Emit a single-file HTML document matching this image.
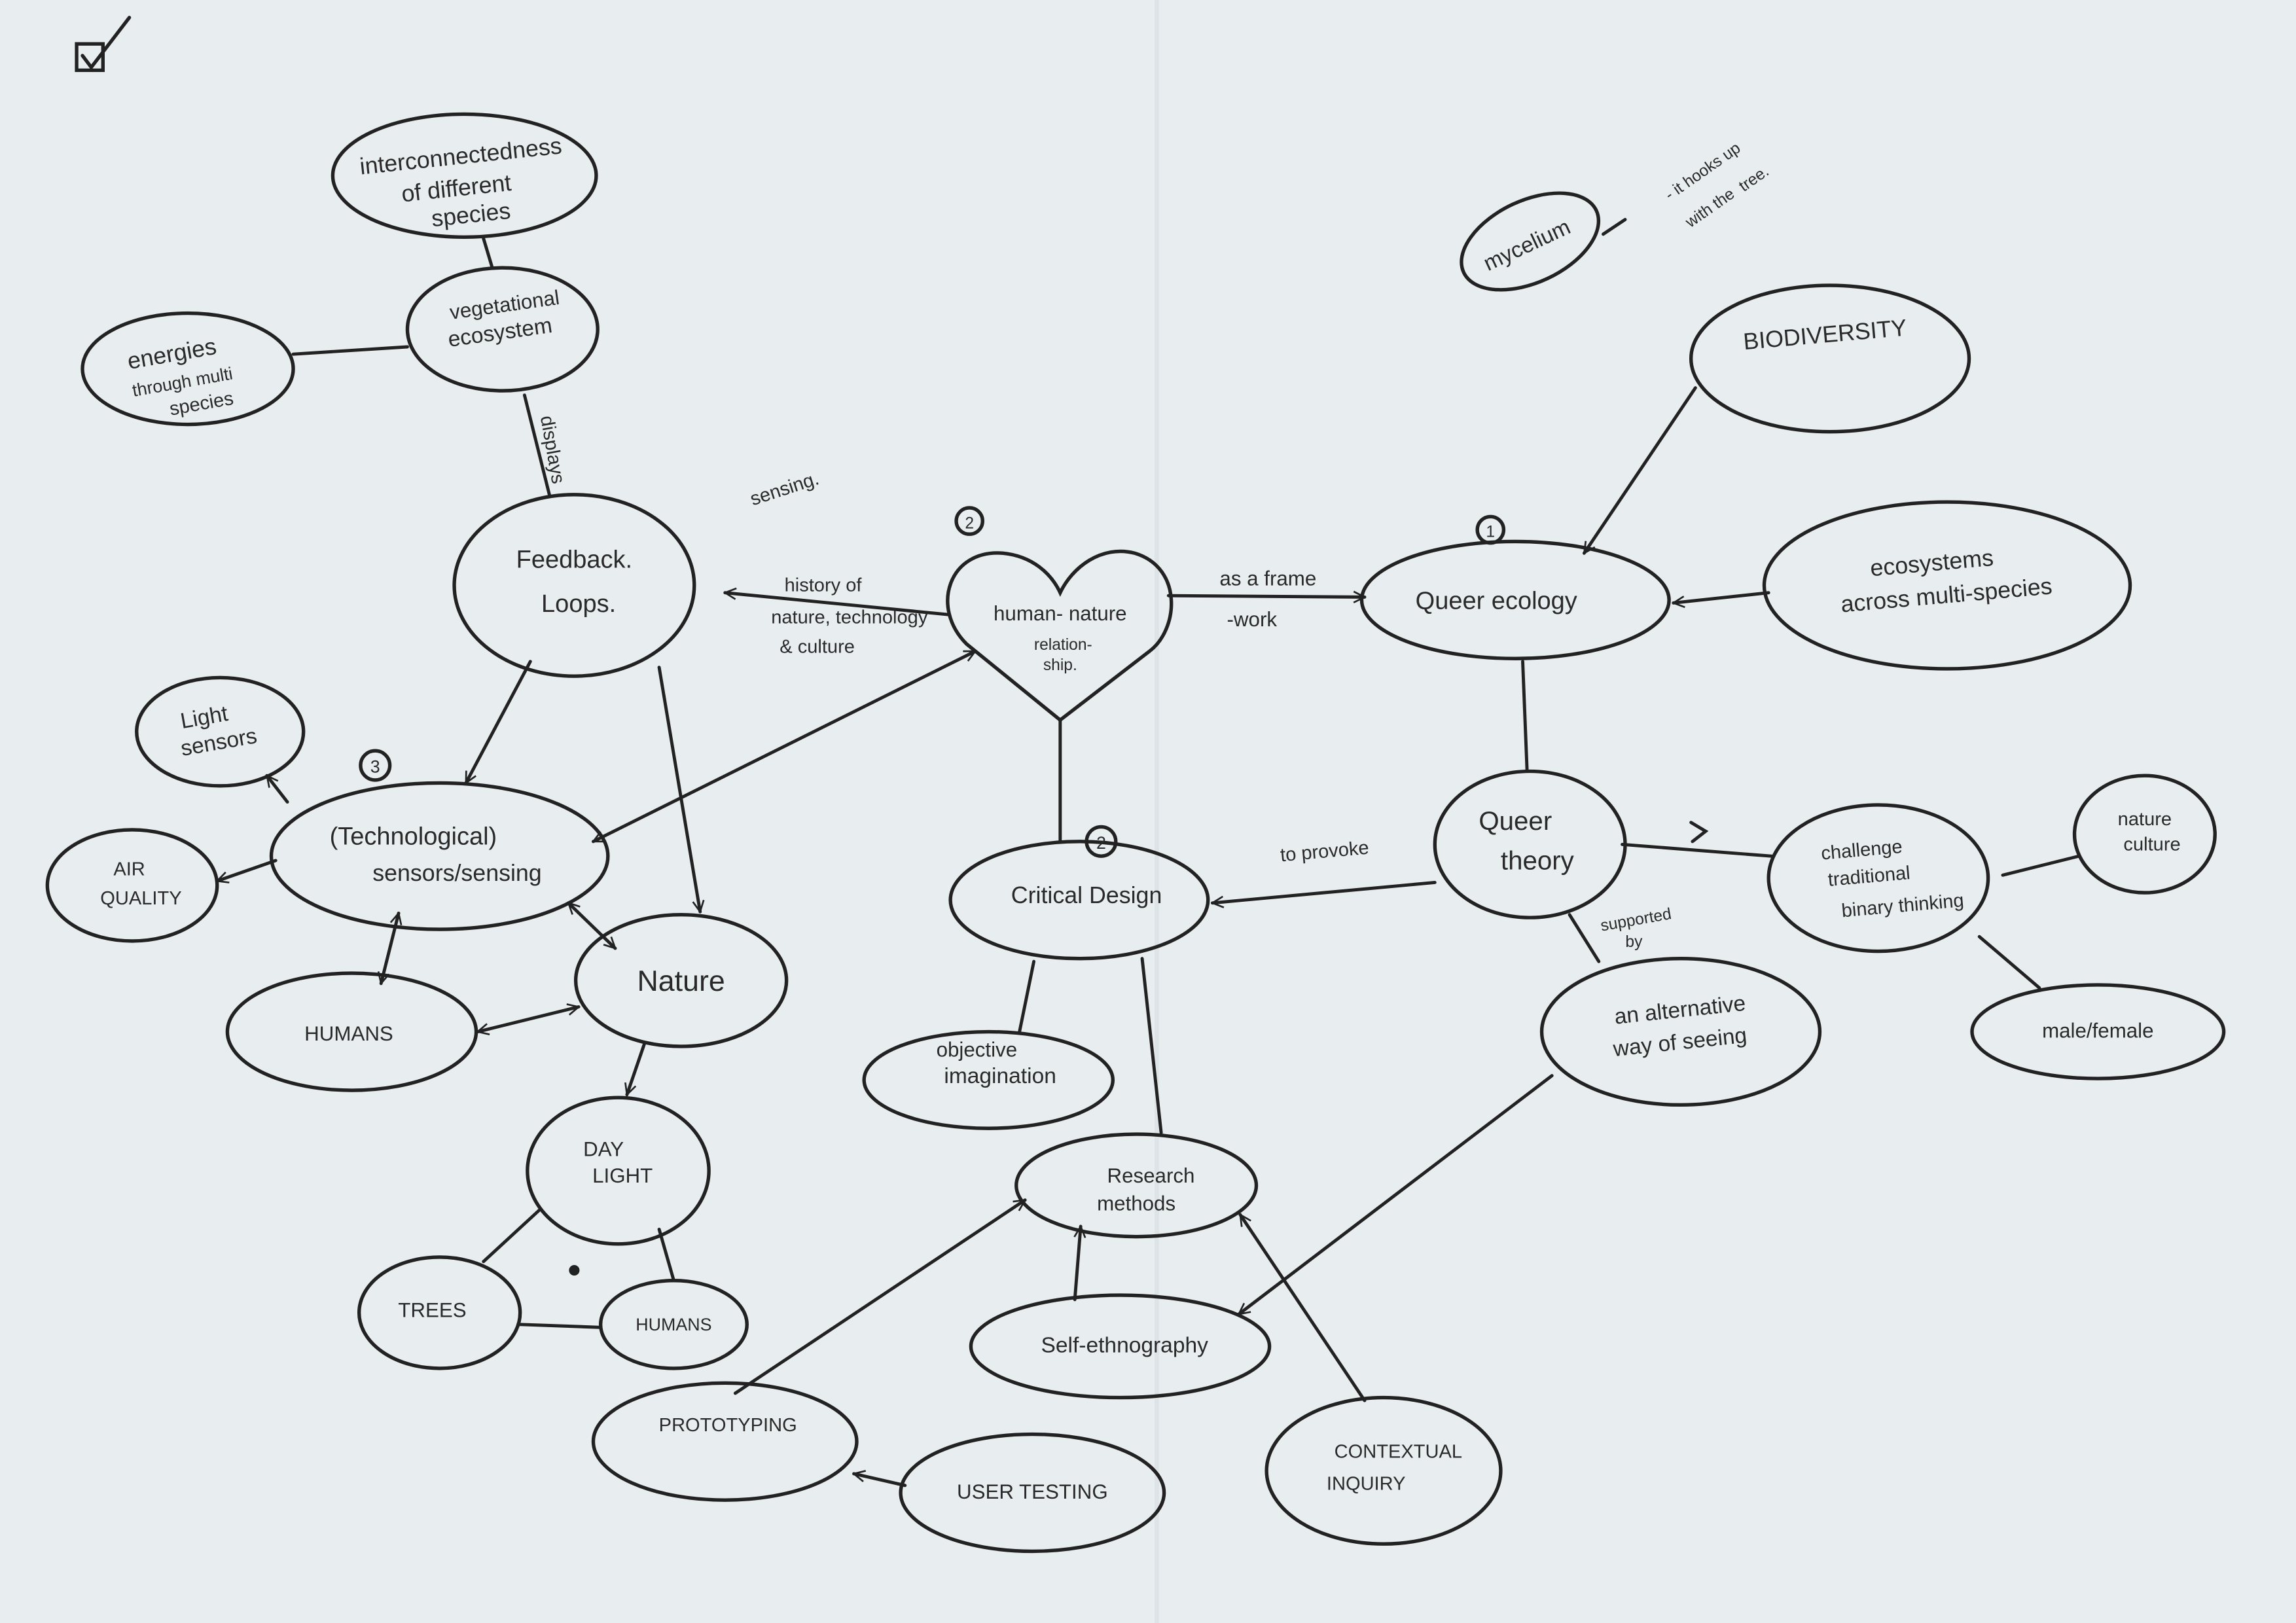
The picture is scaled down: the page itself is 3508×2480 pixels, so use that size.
<!DOCTYPE html>
<html><head><meta charset="utf-8"><style>
html,body{margin:0;padding:0;background:#e8edef;}
svg{display:block}
text{font-family:"Liberation Sans",sans-serif;fill:#2a2a2a;text-anchor:middle;}
</style></head><body>
<svg width="3508" height="2480" viewBox="0 0 1568 1109" xmlns="http://www.w3.org/2000/svg">
<defs><marker id="a" viewBox="0 0 12 12" refX="11" refY="6" markerWidth="9" markerHeight="9" orient="auto-start-reverse" markerUnits="userSpaceOnUse"><path d="M1,1 L11,6 L1,11" fill="none" stroke="#222" stroke-width="1.6"/></marker></defs>
<rect width="1568" height="1109" fill="#e8edef"/>
<line x1="790" y1="0" x2="790" y2="1109" stroke="#dde3e6" stroke-width="3"/>
<g fill="none" stroke="#222" stroke-width="2.4" stroke-linecap="round">
<rect x="52" y="30" width="18" height="18"/><path d="M56,38 L62,46 L88,12"/>
<ellipse cx="317" cy="120" rx="90" ry="42"/>
<ellipse cx="343" cy="225" rx="65" ry="42"/>
<ellipse cx="128" cy="252" rx="72" ry="38"/>
<ellipse cx="392" cy="400" rx="82" ry="62"/>
<path d="M724,492 L660,440 C635,415 648,375 685,378 C705,380 718,392 724,405 C732,388 752,372 775,378 C808,388 805,430 785,445 Z"/>
<ellipse cx="1035" cy="410" rx="105" ry="40"/>
<ellipse cx="1250" cy="245" rx="95" ry="50"/>
<ellipse cx="1330" cy="400" rx="125" ry="57"/>
<ellipse cx="1045" cy="165" rx="50" ry="28" transform="rotate(-25 1045 165)"/>
<ellipse cx="150" cy="500" rx="57" ry="37"/>
<ellipse cx="300" cy="585" rx="115" ry="50"/>
<ellipse cx="90" cy="605" rx="58" ry="38"/>
<ellipse cx="240" cy="705" rx="85" ry="40"/>
<ellipse cx="465" cy="670" rx="72" ry="45"/>
<ellipse cx="422" cy="800" rx="62" ry="50"/>
<ellipse cx="300" cy="897" rx="55" ry="38"/>
<ellipse cx="460" cy="905" rx="50" ry="30"/>
<ellipse cx="737" cy="615" rx="88" ry="40"/>
<ellipse cx="675" cy="738" rx="85" ry="33"/>
<ellipse cx="1045" cy="577" rx="65" ry="50"/>
<ellipse cx="1283" cy="600" rx="75" ry="50"/>
<ellipse cx="1465" cy="570" rx="48" ry="40"/>
<ellipse cx="1433" cy="705" rx="86" ry="32"/>
<ellipse cx="1148" cy="705" rx="95" ry="50"/>
<ellipse cx="776" cy="810" rx="82" ry="35"/>
<ellipse cx="765" cy="920" rx="102" ry="35"/>
<ellipse cx="495" cy="985" rx="90" ry="40"/>
<ellipse cx="705" cy="1020" rx="90" ry="40"/>
<ellipse cx="945" cy="1005" rx="80" ry="50"/>
<circle cx="662" cy="356" r="9"/><circle cx="1018" cy="362" r="9"/><circle cx="256" cy="523" r="10"/><circle cx="752" cy="575" r="10"/>
</g>
<g fill="none" stroke="#222" stroke-width="2.2" stroke-linecap="round">
<line x1="330" y1="163" x2="336" y2="183"/>
<line x1="200" y1="242" x2="278" y2="237"/>
<line x1="358" y1="270" x2="375" y2="338"/>
<line x1="648" y1="420" x2="495" y2="405" marker-end="url(#a)"/>
<line x1="798" y1="407" x2="932" y2="408" marker-end="url(#a)"/>
<line x1="1158" y1="265" x2="1082" y2="378" marker-end="url(#a)"/>
<line x1="1208" y1="405" x2="1143" y2="412" marker-end="url(#a)"/>
<line x1="1040" y1="452" x2="1043" y2="527"/>
<line x1="724" y1="492" x2="724" y2="575"/>
<line x1="362" y1="452" x2="318" y2="535" marker-end="url(#a)"/>
<line x1="450" y1="456" x2="478" y2="623" marker-end="url(#a)"/>
<line x1="405" y1="575" x2="666" y2="445" marker-start="url(#a)" marker-end="url(#a)"/>
<line x1="196" y1="548" x2="182" y2="530" marker-end="url(#a)"/>
<line x1="188" y1="588" x2="148" y2="602" marker-end="url(#a)"/>
<line x1="272" y1="624" x2="260" y2="672" marker-start="url(#a)" marker-end="url(#a)"/>
<line x1="388" y1="617" x2="420" y2="648" marker-start="url(#a)" marker-end="url(#a)"/>
<line x1="326" y1="705" x2="395" y2="688" marker-start="url(#a)" marker-end="url(#a)"/>
<line x1="440" y1="713" x2="428" y2="748" marker-end="url(#a)"/>
<line x1="368" y1="827" x2="330" y2="862"/>
<line x1="450" y1="840" x2="460" y2="875"/>
<line x1="355" y1="905" x2="410" y2="907"/>
<line x1="980" y1="603" x2="828" y2="617" marker-end="url(#a)"/>
<line x1="1108" y1="577" x2="1210" y2="585"/>
<path d="M1155,562 L1165,568 L1156,575"/>
<line x1="1368" y1="598" x2="1420" y2="585"/>
<line x1="1352" y1="640" x2="1393" y2="675"/>
<line x1="1072" y1="625" x2="1092" y2="657"/>
<line x1="706" y1="657" x2="696" y2="706"/>
<line x1="780" y1="655" x2="793" y2="774"/>
<line x1="1060" y1="735" x2="846" y2="898" marker-end="url(#a)"/>
<line x1="734" y1="888" x2="738" y2="838" marker-end="url(#a)"/>
<line x1="502" y1="952" x2="700" y2="820" marker-end="url(#a)"/>
<line x1="932" y1="957" x2="847" y2="830" marker-end="url(#a)"/>
<line x1="618" y1="1015" x2="583" y2="1007" marker-end="url(#a)"/>
<line x1="1095" y1="160" x2="1110" y2="150"/>
<circle cx="392" cy="868" r="2.5" fill="#222"/>
</g>
<g font-size="16">
<text x="315" y="112" transform="rotate(-6 315 112)">interconnectedness</text>
<text x="312" y="134" transform="rotate(-6 312 134)">of different</text>
<text x="322" y="152" transform="rotate(-6 322 152)">species</text>
<text x="345" y="213" font-size="14" transform="rotate(-8 345 213)">vegetational</text>
<text x="342" y="232" font-size="15" transform="rotate(-8 342 232)">ecosystem</text>
<text x="118" y="247" transform="rotate(-10 118 247)">energies</text>
<text x="125" y="265" font-size="12" transform="rotate(-10 125 265)">through multi</text>
<text x="138" y="280" font-size="13" transform="rotate(-10 138 280)">species</text>
<text x="373" y="308" font-size="13" transform="rotate(80 373 308)">displays</text>
<text x="537" y="338" font-size="13" transform="rotate(-18 537 338)">sensing.</text>
<text x="392" y="388" font-size="17">Feedback.</text>
<text x="395" y="418" font-size="17">Loops.</text>
<text x="562" y="404" font-size="13">history of</text>
<text x="580" y="426" font-size="13">nature, technology</text>
<text x="558" y="446" font-size="13">&amp; culture</text>
<text x="662" y="361" font-size="11">2</text>
<text x="724" y="424" font-size="14">human- nature</text>
<text x="726" y="444" font-size="11">relation-</text>
<text x="724" y="458" font-size="11">ship.</text>
<text x="866" y="400" font-size="14">as a frame</text>
<text x="855" y="428" font-size="14">-work</text>
<text x="1018" y="367" font-size="11">1</text>
<text x="1022" y="416" font-size="17">Queer ecology</text>
<text x="1247" y="234" font-size="16" transform="rotate(-5 1247 234)">BIODIVERSITY</text>
<text x="1320" y="390" font-size="16" transform="rotate(-5 1320 390)">ecosystems</text>
<text x="1330" y="412" font-size="16" transform="rotate(-5 1330 412)">across multi-species</text>
<text x="1045" y="172" font-size="15" transform="rotate(-25 1045 172)">mycelium</text>
<text x="1165" y="120" font-size="11" transform="rotate(-35 1165 120)">- it hooks up</text>
<text x="1170" y="145" font-size="11" transform="rotate(-35 1170 145)">with the</text>
<text x="1200" y="125" font-size="11" transform="rotate(-35 1200 125)">tree.</text>
<text x="140" y="495" font-size="15" transform="rotate(-10 140 495)">Light</text>
<text x="150" y="512" font-size="15" transform="rotate(-10 150 512)">sensors</text>
<text x="256" y="528" font-size="12">3</text>
<text x="282" y="577" font-size="17">(Technological)</text>
<text x="312" y="602" font-size="16">sensors/sensing</text>
<text x="88" y="598" font-size="13">AIR</text>
<text x="96" y="618" font-size="13">QUALITY</text>
<text x="238" y="711" font-size="14">HUMANS</text>
<text x="465" y="677" font-size="20">Nature</text>
<text x="412" y="790" font-size="14">DAY</text>
<text x="425" y="808" font-size="14">LIGHT</text>
<text x="295" y="900" font-size="14">TREES</text>
<text x="460" y="909" font-size="12">HUMANS</text>
<text x="905" y="586" font-size="13" transform="rotate(-5 905 586)">to provoke</text>
<text x="752" y="580" font-size="12">2</text>
<text x="742" y="617" font-size="16">Critical Design</text>
<text x="667" y="722" font-size="14">objective</text>
<text x="683" y="740" font-size="15">imagination</text>
<text x="1035" y="567" font-size="18">Queer</text>
<text x="1050" y="594" font-size="18">theory</text>
<text x="1272" y="585" font-size="13" transform="rotate(-5 1272 585)">challenge</text>
<text x="1277" y="603" font-size="13" transform="rotate(-5 1277 603)">traditional</text>
<text x="1300" y="623" font-size="13" transform="rotate(-5 1300 623)">binary thinking</text>
<text x="1465" y="564" font-size="13">nature</text>
<text x="1470" y="581" font-size="13">culture</text>
<text x="1433" y="709" font-size="14">male/female</text>
<text x="1118" y="632" font-size="11" transform="rotate(-10 1118 632)">supported</text>
<text x="1116" y="647" font-size="11">by</text>
<text x="1148" y="695" font-size="15" transform="rotate(-6 1148 695)">an alternative</text>
<text x="1148" y="717" font-size="15" transform="rotate(-6 1148 717)">way of seeing</text>
<text x="786" y="808" font-size="14">Research</text>
<text x="776" y="827" font-size="14">methods</text>
<text x="768" y="924" font-size="15">Self-ethnography</text>
<text x="497" y="978" font-size="13">PROTOTYPING</text>
<text x="705" y="1024" font-size="14">USER TESTING</text>
<text x="955" y="996" font-size="13">CONTEXTUAL</text>
<text x="933" y="1018" font-size="13">INQUIRY</text>
</g>
</svg>
</body></html>
